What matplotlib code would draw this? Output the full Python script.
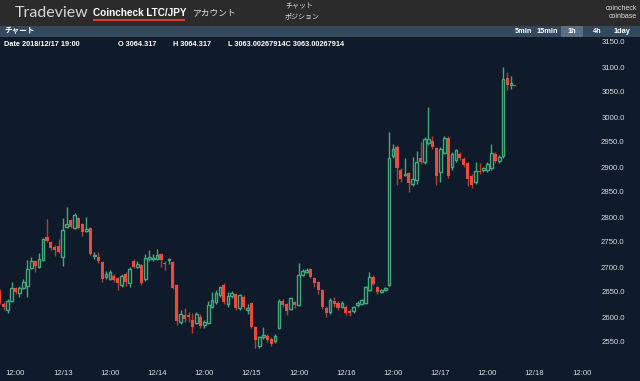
import matplotlib
matplotlib.use('Agg')
import matplotlib.pyplot as plt
from matplotlib.patches import Rectangle

plt.rcParams['font.family'] = ['Liberation Sans', 'Noto Sans CJK JP', 'DejaVu Sans']

# === DADOS (LTC/JPY, 1h, a partir de 12/12 08:00) ===
opens = [2650, 2626, 2614, 2632, 2658, 2648, 2658, 2662, 2698, 2712, 2700, 2714, 2760, 2750, 2740, 2742,
         2720, 2780, 2794, 2778, 2798, 2786, 2772, 2778, 2722, 2720, 2710, 2680, 2676, 2682, 2678, 2664,
         2686, 2668, 2712, 2700, 2704, 2676, 2716, 2716, 2716, 2726, 2708, 2714, 2710, 2664, 2590, 2604,
         2604, 2594, 2588, 2600, 2584, 2588, 2620, 2630, 2644, 2664, 2626, 2642, 2646, 2618, 2640, 2614,
         2628, 2580, 2542, 2560, 2562, 2556, 2552, 2578, 2632, 2626, 2616, 2630, 2624, 2684, 2690, 2696,
         2678, 2670, 2654, 2618, 2610, 2632, 2628, 2620, 2620, 2612, 2612, 2624, 2626, 2628, 2654, 2680,
         2660, 2650, 2654, 2664, 2922, 2940, 2894, 2884, 2888, 2866, 2874, 2918, 2910, 2948, 2952, 2938,
         2890, 2928, 2958, 2900, 2914, 2926, 2916, 2908, 2882, 2870, 2892, 2894, 2894, 2898, 2926, 2912,
         2922, 3078, 3064, 3064]
highs = [2656, 2630, 2636, 2670, 2660, 2662, 2676, 2714, 2720, 2714, 2728, 2758, 2796, 2752, 2744, 2756,
         2798, 2820, 2796, 2808, 2800, 2788, 2800, 2780, 2730, 2730, 2712, 2692, 2694, 2686, 2680, 2686,
         2690, 2700, 2716, 2712, 2706, 2726, 2734, 2726, 2736, 2728, 2712, 2718, 2712, 2666, 2614, 2618,
         2610, 2608, 2610, 2606, 2594, 2632, 2650, 2654, 2662, 2668, 2650, 2652, 2648, 2646, 2644, 2626,
         2630, 2582, 2562, 2580, 2566, 2560, 2566, 2636, 2636, 2628, 2640, 2632, 2708, 2696, 2698, 2698,
         2680, 2672, 2656, 2622, 2638, 2640, 2632, 2632, 2624, 2616, 2622, 2632, 2636, 2662, 2690, 2684,
         2662, 2656, 2660, 2970, 2946, 2944, 2898, 2918, 2890, 2920, 2932, 2950, 2960, 3020, 2962, 2940,
         2940, 2962, 2962, 2930, 2936, 2930, 2920, 2910, 2886, 2910, 2908, 2900, 2910, 2946, 2930, 2924,
         3100, 3090, 3082, 3064]
lows = [2626, 2614, 2608, 2630, 2646, 2640, 2656, 2640, 2696, 2690, 2698, 2712, 2750, 2734, 2722, 2728,
        2702, 2778, 2778, 2776, 2776, 2762, 2770, 2724, 2716, 2708, 2670, 2676, 2674, 2670, 2654, 2660,
        2662, 2660, 2698, 2698, 2664, 2672, 2712, 2712, 2714, 2700, 2694, 2706, 2656, 2584, 2586, 2590,
        2590, 2568, 2586, 2578, 2578, 2586, 2618, 2626, 2640, 2626, 2620, 2638, 2614, 2614, 2616, 2606,
        2578, 2538, 2538, 2556, 2550, 2542, 2548, 2576, 2620, 2604, 2614, 2618, 2622, 2682, 2688, 2678,
        2660, 2646, 2616, 2600, 2606, 2620, 2614, 2618, 2604, 2602, 2608, 2620, 2624, 2626, 2652, 2664,
        2646, 2648, 2652, 2662, 2918, 2864, 2870, 2882, 2850, 2862, 2866, 2906, 2906, 2944, 2936, 2864,
        2870, 2926, 2878, 2894, 2910, 2914, 2900, 2862, 2858, 2866, 2886, 2890, 2890, 2894, 2908, 2908,
        2918, 3054, 3056, 3063]
closes = [2630, 2620, 2632, 2658, 2650, 2658, 2670, 2696, 2712, 2702, 2716, 2756, 2752, 2738, 2735, 2730,
          2774, 2786, 2780, 2804, 2778, 2770, 2776, 2726, 2724, 2712, 2676, 2686, 2690, 2674, 2668, 2682,
          2670, 2696, 2700, 2706, 2668, 2718, 2720, 2718, 2724, 2714, 2706, 2716, 2658, 2592, 2606, 2596,
          2600, 2580, 2606, 2582, 2590, 2624, 2634, 2648, 2660, 2630, 2642, 2648, 2618, 2644, 2620, 2618,
          2580, 2554, 2560, 2564, 2554, 2546, 2562, 2632, 2624, 2612, 2638, 2624, 2684, 2692, 2694, 2680,
          2668, 2654, 2620, 2608, 2634, 2626, 2618, 2628, 2608, 2608, 2620, 2628, 2634, 2660, 2680, 2666,
          2650, 2654, 2658, 2918, 2936, 2898, 2876, 2886, 2868, 2876, 2910, 2910, 2956, 2956, 2940, 2882,
          2936, 2958, 2882, 2926, 2934, 2918, 2904, 2876, 2864, 2892, 2890, 2898, 2906, 2928, 2912, 2920,
          3076, 3064, 3068, 3063]

# rótulos do eixo x (índice da vela -> texto)
tick_idx = [4, 16, 28, 40, 52, 64, 76, 88, 100, 112, 124, 136, 148]
tick_lbl = ['12:00', '12/13', '12:00', '12/14', '12:00', '12/15', '12:00', '12/16', '12:00',
            '12/17', '12:00', '12/18', '12:00']
price_ticks = [2550, 2600, 2650, 2700, 2750, 2800, 2850, 2900, 2950, 3000, 3050, 3100, 3150]

BG = '#0f1b2b'
GREEN = '#45a87c'
RED = '#ee4a3c'
RED_WICK = '#b83a34'

W, H = 640, 381
fig = plt.figure(figsize=(6.4, 3.81), dpi=100, facecolor=BG)

# === EIXO PRINCIPAL ===
ax = fig.add_axes([0, 0, 1, (H - 37) / H])
ax.set_facecolor(BG)
for s in ax.spines.values():
    s.set_visible(False)

x = list(range(len(opens)))
up = [c >= o for o, c in zip(opens, closes)]
for i in x:
    o, h, l, c = opens[i], highs[i], lows[i], closes[i]
    col = GREEN if up[i] else RED_WICK
    ax.vlines(i, l, h, color=col, linewidth=1.0, zorder=2)
    if up[i]:
        ax.bar(i, max(c - o, 2), bottom=o, width=0.68, facecolor=BG, edgecolor=GREEN,
               linewidth=1.0, zorder=3)
    else:
        ax.bar(i, max(o - c, 2), bottom=c, width=0.78, color=RED, linewidth=0, zorder=3)

ax.set_xlim(0.05, 162.8)
ax.set_ylim(2472, 3160)

ax.set_xticks(tick_idx)
ax.set_xticklabels(tick_lbl)
ax.tick_params(axis='x', direction='in', length=0, pad=-8, labelsize=5.6, colors='#d8dde4')

ax.yaxis.tick_right()
ax.set_yticks(price_ticks)
ax.set_yticklabels([f'{p:.1f}' for p in price_ticks])
ax.tick_params(axis='y', direction='in', length=0, pad=-11, labelsize=5.6, colors='#d8dde4')
for lbl in ax.get_yticklabels():
    lbl.set_horizontalalignment('right')


def fy(py):
    return 1 - py / H


def fx(px):
    return px / W


# === CABEÇALHO ===
fig.add_artist(Rectangle((0, fy(26)), 1, 26 / H, transform=fig.transFigure,
                         facecolor='#2b2b2b', edgecolor='none'))
fig.add_artist(Rectangle((0, fy(37)), 1, 11 / H, transform=fig.transFigure,
                         facecolor='#34495e', edgecolor='none'))
fig.add_artist(Rectangle((fx(561), fy(37)), 22 / W, 11 / H, transform=fig.transFigure,
                         facecolor='#5a6d84', edgecolor='none'))

fig.text(fx(15), fy(13), 'Tradeview', fontsize=11.5, color='#d6d6d6', family=['Lato', 'DejaVu Sans'],
         fontweight='normal', va='center')
fig.text(fx(93), fy(12.5), 'Coincheck LTC/JPY', fontsize=7.2, color='white', fontweight='bold', va='center')
fig.add_artist(Rectangle((fx(93), fy(21)), 92 / W, 1.6 / H, transform=fig.transFigure,
                         facecolor='#e03a2e', edgecolor='none'))
fig.text(fx(193), fy(12.5), 'アカウント', fontsize=6.3, color='#e0e0e0', va='center')
fig.text(fx(285), fy(7), 'チャット', fontsize=5, color='#e0e0e0', va='center')
fig.text(fx(285), fy(17), 'ポジション', fontsize=5, color='#e0e0e0', va='center')
fig.text(fx(637), fy(8), 'coincheck', fontsize=5, color='#e0e0e0', va='center', ha='right')
fig.text(fx(637), fy(17), 'coinbase', fontsize=5, color='#e0e0e0', va='center', ha='right')

fig.text(fx(4), fy(31.5), 'チャート', fontsize=5.5, color='white', fontweight='bold', va='center')
for px, t in [(523, '5min'), (547, '15min'), (572, '1h'), (597, '4h'), (622, '1day')]:
    fig.text(fx(px), fy(31.5), t, fontsize=5.3, color='white', fontweight='bold', va='center', ha='center')

# === LINHA DE INFO ===
fig.text(fx(4), fy(44), 'Date 2018/12/17 19:00', fontsize=5.3, color='white', fontweight='bold', va='center')
fig.text(fx(118), fy(44), 'O 3064.317', fontsize=5.3, color='white', fontweight='bold', va='center')
fig.text(fx(173), fy(44), 'H 3064.317', fontsize=5.3, color='white', fontweight='bold', va='center')
fig.text(fx(228), fy(44), 'L 3063.00267914C 3063.00267914', fontsize=5.3, color='white',
         fontweight='bold', va='center')

fig.savefig('out.png', dpi=100, facecolor=BG)
